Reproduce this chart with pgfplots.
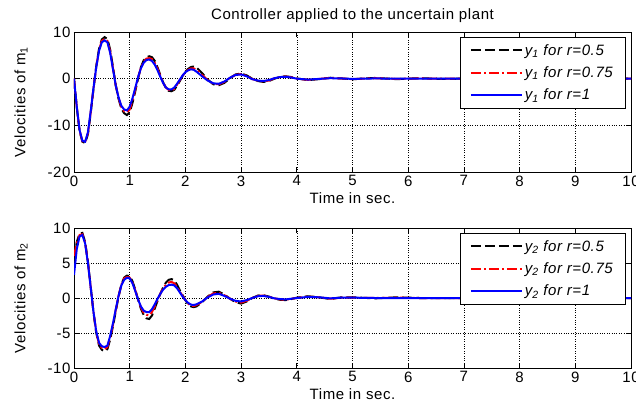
\documentclass[border=0pt]{standalone}
\usepackage{fontspec}
\setmainfont[LetterSpace=4]{Liberation Sans}
\usepackage{pgfplots}
\pgfplotsset{compat=1.18}
\usepackage{pgfplotstable}

% velocities of m1: k = r 0.5, r = r 0.75, b = r 1
\pgfplotstableread{
t k r b
0.00 0 0 0
0.05 -6.2 -6.1 -6
0.10 -11.2 -11.1 -11
0.15 -13.5 -13.4 -13.3
0.20 -13.8 -13.6 -13.5
0.25 -11.9 -11.7 -11.5
0.30 -7.4 -7.2 -7
0.35 -2.2 -2.1 -2
0.40 2.7 2.6 2.5
0.45 6.4 6.2 6
0.50 8.4 8.1 7.8
0.55 8.9 8.5 8.2
0.60 8.5 8.1 7.8
0.65 6.2 5.8 5.5
0.70 2.5 2.2 2
0.75 -1.4 -1.5 -1.5
0.80 -4.3 -4.1 -4
0.85 -6.4 -6.1 -5.8
0.90 -7.4 -7.0 -6.6
0.95 -7.8 -7.2 -6.8
1.00 -7.2 -6.6 -6
1.05 -5.2 -4.7 -4.2
1.10 -2.7 -2.3 -2
1.15 0.0 0.2 0.3
1.20 2.4 2.3 2.2
1.25 3.9 3.6 3.4
1.30 4.6 4.3 4
1.35 4.8 4.4 4.1
1.40 4.6 4.2 3.8
1.45 3.8 3.4 3
1.50 2.4 2.1 1.8
1.55 0.8 0.6 0.4
1.60 -0.8 -0.9 -0.9
1.65 -2.0 -1.9 -1.9
1.70 -2.6 -2.4 -2.3
1.75 -2.7 -2.5 -2.3
1.80 -2.4 -2.2 -1.9
1.85 -1.5 -1.3 -1.1
1.90 -0.5 -0.3 -0.2
1.95 0.6 0.6 0.7
2.00 1.5 1.4 1.4
2.05 2.1 1.9 1.8
2.10 2.5 2.2 2.0
2.15 2.6 2.2 1.9
2.20 2.4 1.9 1.5
2.30 1.2 0.8 0.5
2.40 -0.2 -0.3 -0.4
2.50 -1.2 -1.1 -1.0
2.60 -1.4 -1.2 -1.1
2.70 -0.9 -0.7 -0.6
2.80 0.1 0.2 0.2
2.90 0.9 0.8 0.8
3.00 1.1 1.0 0.9
3.10 0.7 0.6 0.5
3.20 0.0 -0.1 -0.1
3.30 -0.5 -0.4 -0.4
3.40 -0.7 -0.6 -0.5
3.50 -0.5 -0.4 -0.3
3.60 0.0 0.1 0.1
3.70 0.4 0.35 0.35
3.80 0.5 0.45 0.4
3.90 0.35 0.3 0.25
4.00 0.05 0.0 0.0
4.20 -0.3 -0.25 -0.2
4.40 -0.1 -0.05 -0.05
4.60 0.2 0.15 0.1
4.80 0.05 0.05 0.05
5.00 -0.15 -0.1 -0.05
5.20 0.05 0.0 0.0
5.40 0.15 0.1 0.05
5.80 -0.1 -0.05 0
6.20 0.1 0.05 0
6.60 -0.05 0 0
7.00 0 0 0
10.00 0 0 0
}\topdata

% velocities of m2
\pgfplotstableread{
t k r b
0.00 5.5 6.0 3.3
0.05 8.0 7.8 7.0
0.10 9.2 9.0 8.8
0.15 9.3 9.1 9.0
0.20 8.0 7.9 7.8
0.25 5.2 5.1 5.0
0.30 1.6 1.5 1.5
0.35 -2.1 -2.0 -2.0
0.40 -5.0 -4.9 -4.8
0.45 -6.8 -6.6 -6.4
0.50 -7.4 -7.1 -6.9
0.55 -7.6 -7.3 -7.0
0.60 -7.3 -7.0 -6.8
0.65 -5.9 -5.6 -5.4
0.70 -4.0 -3.8 -3.6
0.75 -1.9 -1.7 -1.6
0.80 0.2 0.3 0.3
0.85 1.9 1.9 1.8
0.90 2.9 2.8 2.6
0.95 3.2 3.0 2.9
1.00 3.1 2.9 2.8
1.05 2.4 2.2 2.1
1.10 1.2 1.1 1.0
1.15 -0.2 -0.2 -0.2
1.20 -1.5 -1.3 -1.2
1.25 -2.4 -2.1 -1.8
1.30 -2.9 -2.4 -2.0
1.35 -3.0 -2.5 -2.0
1.40 -2.5 -2.0 -1.6
1.45 -1.5 -1.2 -0.9
1.50 -0.4 -0.2 -0.1
1.55 0.6 0.6 0.6
1.60 1.5 1.4 1.2
1.65 2.2 1.9 1.6
1.70 2.6 2.2 1.85
1.75 2.7 2.3 1.9
1.80 2.5 2.1 1.8
1.85 1.9 1.6 1.4
1.90 1.1 0.9 0.8
1.95 0.4 0.3 0.2
2.00 -0.3 -0.3 -0.3
2.05 -0.9 -0.8 -0.7
2.10 -1.2 -1.1 -0.95
2.15 -1.3 -1.15 -1.0
2.20 -1.2 -1.0 -0.9
2.30 -0.6 -0.55 -0.5
2.40 0.2 0.15 0.1
2.50 0.8 0.65 0.5
2.60 0.9 0.75 0.6
2.70 0.5 0.4 0.3
2.80 -0.1 -0.1 -0.1
2.90 -0.6 -0.5 -0.4
3.00 -0.8 -0.65 -0.5
3.10 -0.5 -0.4 -0.3
3.20 0.0 0.0 0.0
3.30 0.35 0.3 0.25
3.40 0.4 0.35 0.3
3.50 0.2 0.2 0.15
3.60 -0.1 -0.05 -0.05
3.70 -0.25 -0.2 -0.15
3.80 -0.3 -0.25 -0.2
3.90 -0.15 -0.1 -0.1
4.00 0.05 0.0 0.0
4.20 0.25 0.2 0.15
4.40 0.1 0.1 0.1
4.60 -0.15 -0.1 -0.05
4.80 0.1 0.05 0.05
5.00 0.1 0.05 0.05
5.40 -0.05 0 0
5.80 0.1 0.05 0
6.20 0 0 0
10.00 0 0 0
}\botdata

\newcommand\fs{\fontsize{15}{17}\selectfont}

\pgfplotsset{
  velo/.style={
    scale only axis, width=557pt, height=140pt,
    xmin=0, xmax=10, xtick={0,...,10},
    grid=major, grid style={black, dotted, line width=0.6pt},
    axis line style={line width=0.7pt},
    tick style={black, line width=0.7pt}, major tick length=5pt,
    tick align=inside,
    /pgf/number format/assume math mode=true,
    ticklabel style={font=\fs},
    label style={font=\fs},
    xlabel={Time in sec.},
    ylabel style={at={(axis description cs:-0.095,0.5)}, anchor=center, rotate=0},
    legend cell align=left,
    legend style={at={(1,1)}, anchor=north east, xshift=-6pt, yshift=-5pt,
      draw=black, inner xsep=10pt, inner ysep=5pt,
      row sep=6pt, font=\fs\itshape},
    legend image code/.code={\draw[line width=2pt,##1] (0pt,0pt) -- (51pt,0pt);},
  },
  kline/.style={black, line width=2pt, dash pattern=on 10pt off 4pt},
  rline/.style={red, line width=2pt, dash pattern=on 10pt off 3pt on 2pt off 3pt},
  bline/.style={blue, line width=2pt},
}

\begin{document}
\begin{tikzpicture}[x=1pt,y=1pt]
\useasboundingbox (0,0) rectangle (636,405);
\begin{axis}[velo, at={(74pt,233pt)}, anchor=south west,
  ymin=-20, ymax=10, ytick={-20,-10,0,10},
  ylabel={Velocities of m\textsubscript{1}},
  title={Controller applied to the uncertain plant},
  title style={font=\fs, yshift=-0.5pt}]
  \addplot[kline] table[x=t, y=k] {\topdata};
  \addlegendentry{y\textsubscript{1} for r=0.5}
  \addplot[rline] table[x=t, y=r] {\topdata};
  \addlegendentry{y\textsubscript{1} for r=0.75}
  \addplot[bline] table[x=t, y=b] {\topdata};
  \addlegendentry{y\textsubscript{1} for r=1}
\end{axis}
\begin{axis}[velo, at={(74pt,37pt)}, anchor=south west,
  ymin=-10, ymax=10, ytick={-10,-5,0,5,10},
  ylabel={Velocities of m\textsubscript{2}}]
  \addplot[kline] table[x=t, y=k] {\botdata};
  \addlegendentry{y\textsubscript{2} for r=0.5}
  \addplot[rline] table[x=t, y=r] {\botdata};
  \addlegendentry{y\textsubscript{2} for r=0.75}
  \addplot[bline] table[x=t, y=b] {\botdata};
  \addlegendentry{y\textsubscript{2} for r=1}
\end{axis}
\end{tikzpicture}
\end{document}
